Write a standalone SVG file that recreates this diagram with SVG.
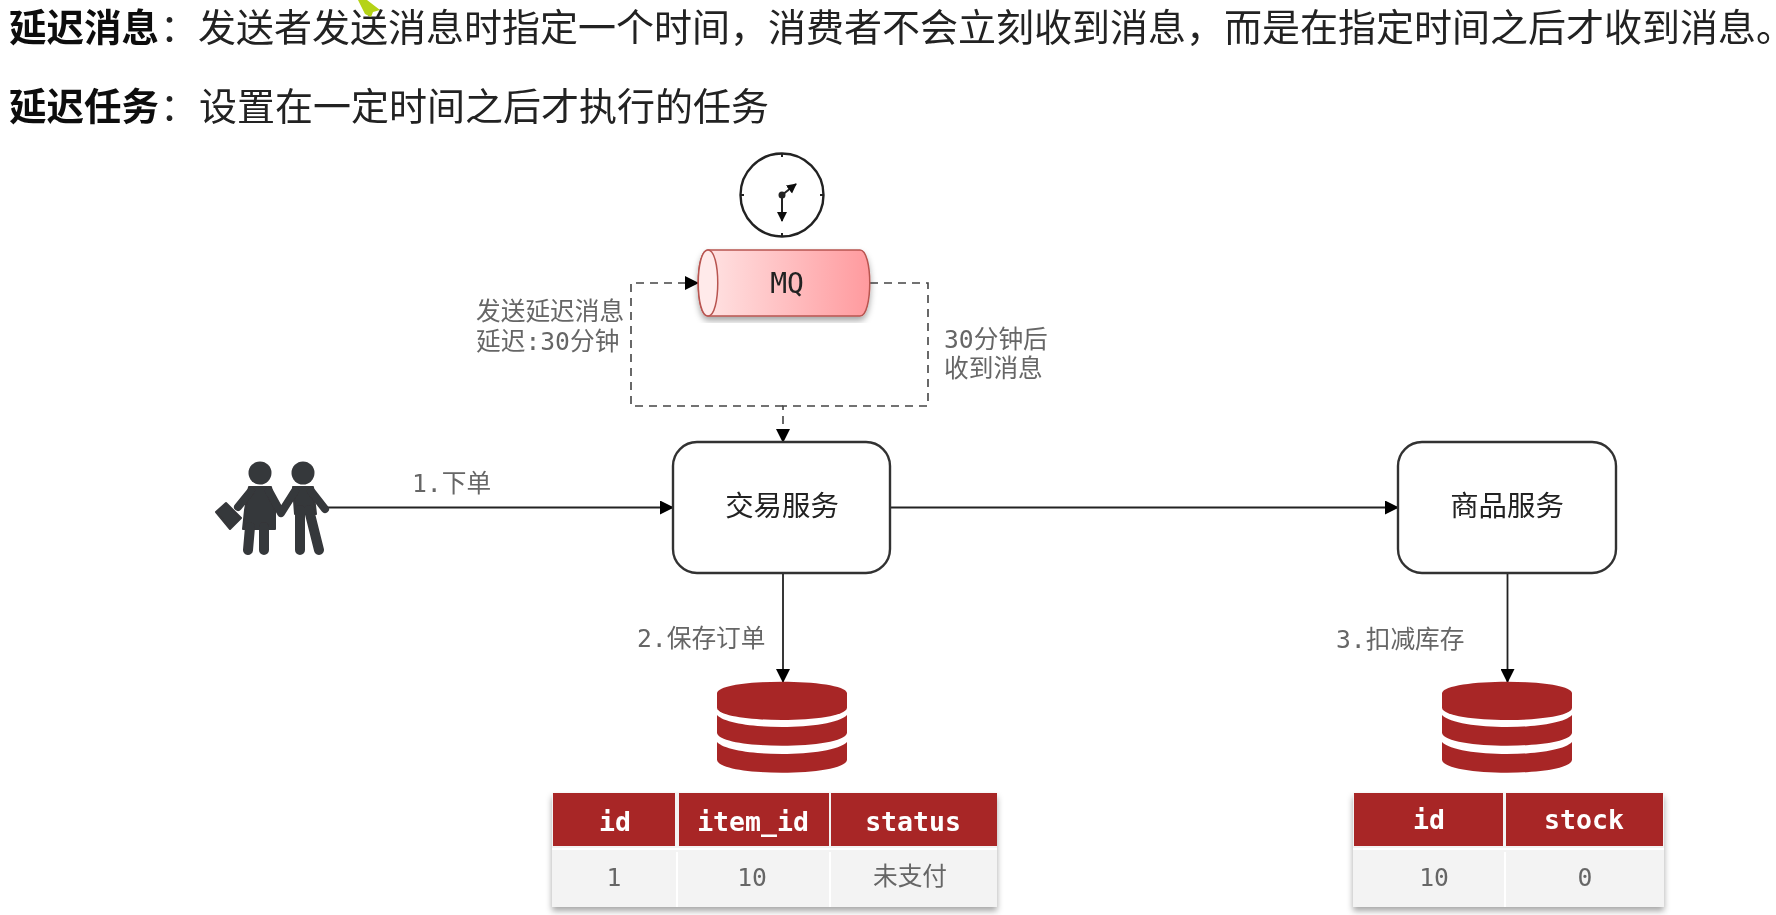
<svg xmlns="http://www.w3.org/2000/svg" width="1776" height="915" viewBox="0 0 1776 915">
<style>
text{font-family:"DejaVu Sans Mono","Noto Sans CJK SC",monospace}
.h{font-family:"Noto Sans CJK SC",sans-serif;font-size:38px;fill:#222}
.hb{font-size:37.500px;font-weight:700;fill:#111}
.e{font-feature-settings:"halt"}
.l{font-size:24.700px;fill:#666}
.b{font-size:28.400px;fill:#222;text-anchor:middle;font-family:"Noto Sans CJK SC",sans-serif}
.th{font-size:26.500px;font-weight:700;fill:#fff;text-anchor:middle}
.td{font-size:24.700px;fill:#666;text-anchor:middle}
.box{fill:#fff;stroke:#333;stroke-width:2.4}
.c{fill:none;stroke:#222;stroke-width:1.8}
.d{fill:none;stroke:#444;stroke-width:1.6;stroke-dasharray:8 6}
.red{fill:#a82828}
.p{fill:none;stroke:#36373a;stroke-linecap:round;stroke-linejoin:round}
.f{fill:#36373a;stroke:#36373a;stroke-width:2;stroke-linejoin:round}
</style>
<defs>
<marker id="a" viewBox="0 0 14 14" refX="13" refY="7" markerWidth="14" markerHeight="14" markerUnits="userSpaceOnUse" orient="auto"><path d="M0 0L14 7L0 14z" fill="#000"/></marker>
<marker id="s" viewBox="0 0 10 10" refX="9" refY="5" markerWidth="10" markerHeight="11" markerUnits="userSpaceOnUse" orient="auto"><path d="M0 0L10 5L0 10z" fill="#111"/></marker>
<linearGradient id="g" x1="0" x2="1" y1="0" y2="0"><stop offset="0" stop-color="#ffe6e6"/><stop offset="1" stop-color="#ff9a9e"/></linearGradient>
<filter id="sh" x="-5%" y="-5%" width="110%" height="115%"><feDropShadow dx="0" dy="4" stdDeviation="3" flood-color="#000" flood-opacity=".35"/></filter>
<filter id="soft" filterUnits="userSpaceOnUse" x="0" y="0" width="1776" height="915"><feGaussianBlur stdDeviation="0.650"/></filter>
<g id="db"><path class="red" d="M-65 -34C-62 -49 62 -49 65 -34V-19C62 -3 -62 -3 -65 -19Z"/><path class="red" d="M-65 -12C-50 4 50 4 65 -12V6C62 23 -62 23 -65 6Z"/><path class="red" d="M-65 15C-50 31 50 31 65 15V33C62 50 -62 50 -65 33Z"/></g>
</defs>
<g filter="url(#soft)">
<rect width="1776" height="915" fill="#fff"/>
<g id="heading">
<text class="h hb" x="9" y="41">延迟消息</text><text class="h" x="160" y="41">：</text>
<text class="h" x="198" y="41">发送者发送消息时指定一个时间，消费者不会立刻收到消息，而是在指定时间之后才收到消息<tspan class="e">。</tspan></text>
<text class="h hb" x="9" y="120">延迟任务</text><text class="h" x="160" y="120">：</text>
<text class="h" x="199" y="120">设置在一定时间之后才执行的任务</text>
<path d="M358 0H367L380 10L373 12L371 17L365 14Z" fill="#b5d316"/>
</g>
<g id="connectors">
<path class="c" d="M328 507.500H673" marker-end="url(#a)"/>
<path class="c" d="M890 507.500H1398" marker-end="url(#a)"/>
<path class="c" d="M783 573V682" marker-end="url(#a)"/>
<path class="c" d="M1507.500 573V682" marker-end="url(#a)"/>
<path class="d" d="M783 406H631V283H698" marker-end="url(#a)"/>
<path class="d" d="M870 283H928V406H783V442" marker-end="url(#a)"/>
</g>
<g id="clock">
<circle cx="782" cy="195" r="41.500" fill="#fff" stroke="#222" stroke-width="2.400"/>
<path d="M782 153v4M782 233v4M740 195h4M820 195h4" stroke="#222" stroke-width="2"/>
<circle cx="782" cy="195" r="3.500" fill="#222"/>
<path d="M782 195V221" stroke="#222" stroke-width="2" marker-end="url(#s)"/>
<path d="M782 195L796 184" stroke="#222" stroke-width="2" marker-end="url(#s)"/>
</g>
<g id="mq">
<path d="M708 250H860C873 250 873 316 860 316H708C695 316 695 250 708 250Z" fill="url(#g)" stroke="#b85450" stroke-width="1.500" filter="url(#sh)"/>
<path d="M708 250C695 250 695 316 708 316C721 316 721 250 708 250Z" fill="#ffeaea" stroke="#b85450" stroke-width="1.500"/>
<text x="787" y="293" font-size="28" fill="#222" text-anchor="middle">MQ</text>
</g>
<g id="users">
<circle cx="260" cy="473" r="11.500" fill="#36373a"/><circle cx="303" cy="473" r="11.500" fill="#36373a"/>
<path class="f" d="M249 487H271L275 510L275 529H243L245 510Z"/>
<path class="f" d="M293 487H313L316 514H295Z"/>
<path class="p" stroke-width="8" d="M251 491L238 507M269 491L281 513M295 491L281 513M311 491L325 509"/>
<path class="p" stroke-width="10" d="M250 527L248 550M264 527L264 550M300 510L300 550M309 510L319 550"/>
<path class="f" d="M216 512L226 503L241 518L230 529Z"/>
</g>
<g id="service-trade"><rect class="box" x="673" y="442" width="217" height="131" rx="24"/><text class="b" x="782" y="516">交易服务</text></g>
<g id="service-item"><rect class="box" x="1398" y="442" width="218" height="131" rx="24"/><text class="b" x="1507" y="516">商品服务</text></g>
<g id="db1"><use href="#db" x="782" y="727"/></g>
<g id="db2"><use href="#db" x="1507" y="727"/></g>
<g id="labels">
<text class="l" x="476" y="320">发送延迟消息</text>
<text class="l" x="476" y="350">延迟:30分钟</text>
<text class="l" x="944" y="348">30分钟后</text>
<text class="l" x="944" y="377">收到消息</text>
<text class="l" x="412" y="492">1.下单</text>
<text class="l" x="637" y="647">2.保存订单</text>
<text class="l" x="1336" y="648">3.扣减库存</text>
</g>
<g id="table-order">
<rect x="552" y="793" width="445" height="114" fill="#f3f3f3" filter="url(#sh)"/>
<rect x="553" y="793" width="122" height="53" class="red"/><rect x="679" y="793" width="150" height="53" class="red"/><rect x="831" y="793" width="166" height="53" class="red"/>
<path d="M677 852V907M830 852V907M552 849H997" stroke="#fff" stroke-width="2"/>
<text class="th" x="615" y="831">id</text><text class="th" x="753" y="831">item_id</text><text class="th" x="913" y="831">status</text>
<text class="td" x="614" y="886">1</text><text class="td" x="752" y="886">10</text><text class="td" x="910" y="885" style="font-family:'Noto Sans CJK SC',sans-serif">未支付</text>
</g>
<g id="table-stock">
<rect x="1353" y="793" width="311" height="114" fill="#f3f3f3" filter="url(#sh)"/>
<rect x="1354" y="793" width="149" height="53" class="red"/><rect x="1506" y="793" width="157" height="53" class="red"/>
<path d="M1505 852V907M1353 849H1664" stroke="#fff" stroke-width="2"/>
<text class="th" x="1429" y="829">id</text><text class="th" x="1584" y="829">stock</text>
<text class="td" x="1434" y="886">10</text><text class="td" x="1585" y="886">0</text>
</g>
</g>
</svg>
